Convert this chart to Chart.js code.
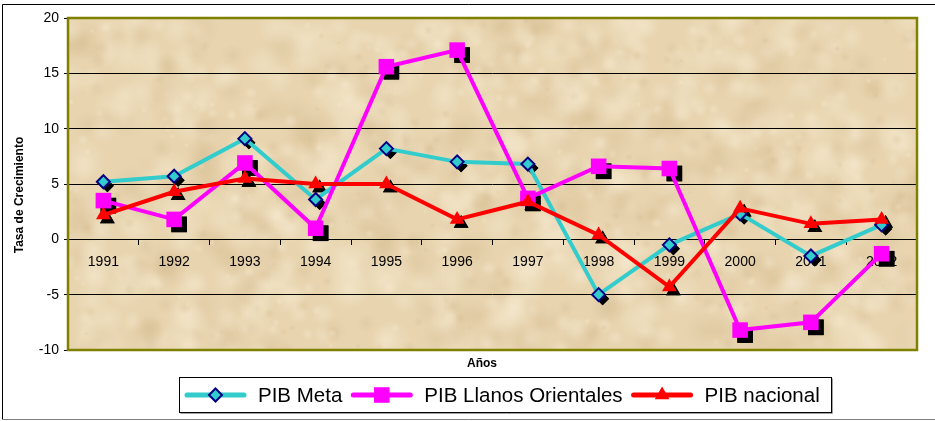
<!DOCTYPE html>
<html>
<head>
<meta charset="utf-8">
<script src="https://cdn.jsdelivr.net/npm/chart.js@4.4.0/dist/chart.umd.min.js"></script>
<style>
    html, body { margin: 0; padding: 0; background: #ffffff; }
    #wrap { width: 935px; height: 421px; position: relative; }
</style>
</head>
<body>
<div id="wrap"><canvas id="myChart" width="935" height="421"></canvas></div>
<script>
const years = ['1991', '1992', '1993', '1994', '1995', '1996', '1997', '1998', '1999', '2000', '2001', '2002'];
const pibMeta = [5.2, 5.7, 9.1, 3.6, 8.2, 7.0, 6.8, -5.0, -0.5, 2.3, -1.5, 1.3];
const pibLlanos = [3.5, 1.8, 6.9, 1.0, 15.6, 17.1, 3.7, 6.6, 6.4, -8.2, -7.5, -1.3];
const pibNacional = [2.2, 4.3, 5.5, 5.0, 5.0, 1.8, 3.4, 0.4, -4.3, 2.8, 1.4, 1.8];
const yTicks = [-10, -5, 0, 5, 10, 15, 20];
const seriesNames = ['PIB Meta', 'PIB Llanos Orientales', 'PIB nacional'];

const FONT = 'Arial, "Liberation Sans", sans-serif';

// parchment texture for the plot area (deterministic mottling)
function hash(n)
{
    const s = Math.sin(n * 12.9898) * 43758.5453;
    return s - Math.floor(s);
}

function makeParchment(w, h)
{
    const c = document.createElement('canvas');
    c.width = w;
    c.height = h;
    const g = c.getContext('2d');
    g.fillStyle = '#e8d5b0';
    g.fillRect(0, 0, w, h);
    for (let i = 0; i < 1100; i++)
    {
        const x = hash(i * 3 + 1) * w;
        const y = hash(i * 3 + 2) * h;
        const r = 2 + hash(i * 3 + 3) * 20;
        const light = hash(i * 7 + 5) > 0.45;
        const grad = g.createRadialGradient(x, y, 0, x, y, r);
        grad.addColorStop(0, light ? 'rgba(248,236,212,0.38)' : 'rgba(210,184,140,0.32)');
        grad.addColorStop(1, light ? 'rgba(248,236,212,0)' : 'rgba(210,184,140,0)');
        g.fillStyle = grad;
        g.fillRect(x - r, y - r, r * 2, r * 2);
    }
    return c;
}

let parchment = null;

const backgroundPlugin = {
    id: 'parchmentBg',
    beforeDraw(chart)
    {
        const { ctx, chartArea } = chart;
        const w = Math.round(chartArea.right - chartArea.left);
        const h = Math.round(chartArea.bottom - chartArea.top);
        if (!parchment || parchment.width !== w || parchment.height !== h)
        {
            parchment = makeParchment(w, h);
        }
        ctx.save();
        // outer chart frame
        ctx.strokeStyle = '#000000';
        ctx.lineWidth = 1;
        ctx.beginPath();
        ctx.moveTo(2.5, 419.5);
        ctx.lineTo(2.5, 4.5);
        ctx.lineTo(935, 4.5);
        ctx.stroke();
        ctx.strokeStyle = '#808080';
        ctx.beginPath();
        ctx.moveTo(2.5, 419.5);
        ctx.lineTo(935, 419.5);
        ctx.stroke();
        ctx.drawImage(parchment, chartArea.left, chartArea.top);
        ctx.restore();
    },
    beforeDatasetsDraw(chart)
    {
        const { ctx, chartArea } = chart;
        ctx.save();
        ctx.strokeStyle = '#808000';
        ctx.lineWidth = 2.5;
        ctx.strokeRect(chartArea.left, chartArea.top, chartArea.right - chartArea.left, chartArea.bottom - chartArea.top);

        // black marker shadows
        chart.data.datasets.forEach((ds, i) =>
        {
            const meta = chart.getDatasetMeta(i);
            const off = ds.shadowOffset;
            ctx.fillStyle = '#000000';
            ctx.strokeStyle = '#000000';
            meta.data.forEach(pt =>
            {
                Chart.helpers.drawPoint(ctx, {
                    pointStyle: ds.pointStyle,
                    radius: ds.pointRadius,
                    rotation: 0,
                    borderWidth: 0
                }, pt.x + off, pt.y + off);
                ctx.fill();
            });
        });
        ctx.restore();
    },
    afterDraw(chart)
    {
        const { ctx } = chart;
        ctx.save();

        // axis titles
        ctx.fillStyle = '#000000';
        ctx.font = 'bold 12px ' + FONT;
        ctx.textAlign = 'center';
        ctx.textBaseline = 'middle';
        ctx.fillText('Años', 482, 364);
        ctx.translate(20, 195);
        ctx.rotate(-Math.PI / 2);
        ctx.fillText('Tasa de Crecimiento', 0, 0);
        ctx.setTransform(1, 0, 0, 1, 0, 0);

        // legend with line + marker samples
        ctx.font = '20.5px ' + FONT;
        ctx.textAlign = 'left';
        ctx.textBaseline = 'middle';
        const boxLeft = 179.5, boxTop = 377.5, boxH = 35;
        const cy = boxTop + boxH / 2;
        let x = boxLeft + 7.5;
        let lastEnd = x;
        const items = [];
        chart.data.datasets.forEach((ds, i) =>
        {
            const tw = ctx.measureText(seriesNames[i]).width;
            items.push({ ds, x, tw, name: seriesNames[i] });
            lastEnd = x + 71 + tw;
            x = lastEnd + 11;
        });
        const boxW = Math.round(lastEnd + 12 - boxLeft);
        ctx.strokeStyle = '#000000';
        ctx.lineWidth = 1;
        ctx.strokeRect(boxLeft, boxTop, boxW, boxH);
        ctx.strokeStyle = '#a0a0a0';
        ctx.beginPath();
        ctx.moveTo(boxLeft + 1, boxTop + boxH + 1);
        ctx.lineTo(boxLeft + boxW + 1, boxTop + boxH + 1);
        ctx.lineTo(boxLeft + boxW + 1, boxTop + 1);
        ctx.stroke();

        items.forEach(it =>
        {
            const ds = it.ds;
            ctx.strokeStyle = ds.borderColor;
            ctx.lineWidth = 5;
            ctx.lineCap = 'round';
            ctx.beginPath();
            ctx.moveTo(it.x, cy);
            ctx.lineTo(it.x + 57, cy);
            ctx.stroke();
            ctx.lineCap = 'butt';
            ctx.fillStyle = ds.pointBackgroundColor;
            ctx.strokeStyle = ds.pointBorderColor;
            ctx.lineWidth = ds.pointBorderWidth;
            Chart.helpers.drawPoint(ctx, {
                pointStyle: ds.pointStyle,
                radius: ds.pointRadius,
                rotation: 0,
                borderWidth: ds.pointBorderWidth
            }, it.x + 28.5, cy);
            ctx.fillStyle = '#000000';
            ctx.fillText(it.name, it.x + 71, cy + 1);
        });
        ctx.restore();
    }
};

const chartContext = document.getElementById('myChart').getContext('2d');

new Chart(chartContext, {
    type: 'line',
    data: {
        labels: years,
        datasets: [
            {
                label: seriesNames[0],
                data: pibMeta,
                borderColor: '#33cccc',
                borderWidth: 4,
                pointStyle: 'rectRot',
                pointRadius: 6.5,
                pointBackgroundColor: '#33cccc',
                pointBorderColor: '#000080',
                pointBorderWidth: 2,
                shadowOffset: 4,
                order: 3
            },
            {
                label: seriesNames[1],
                data: pibLlanos,
                borderColor: '#ff00ff',
                borderWidth: 4,
                pointStyle: 'rect',
                pointRadius: 11,
                pointBackgroundColor: '#ff00ff',
                pointBorderColor: '#ff00ff',
                pointBorderWidth: 0,
                shadowOffset: 5,
                order: 2
            },
            {
                label: seriesNames[2],
                data: pibNacional,
                borderColor: '#ff0000',
                borderWidth: 4,
                pointStyle: 'triangle',
                pointRadius: 8.5,
                pointBackgroundColor: '#ff0000',
                pointBorderColor: '#ff0000',
                pointBorderWidth: 0,
                shadowOffset: 4,
                order: 1
            }
        ]
    },
    options: {
        responsive: false,
        animation: false,
        devicePixelRatio: 1,
        layout: {
            padding: { top: 18, right: 18, bottom: 71, left: 0 }
        },
        plugins: {
            legend: { display: false },
            tooltip: { enabled: false },
            title: { display: false }
        },
        scales: {
            x: {
                type: 'category',
                position: { y: 0 },
                offset: true,
                grid: {
                    display: true,
                    offset: true,
                    drawOnChartArea: false,
                    drawTicks: true,
                    tickLength: 5,
                    color: '#000000'
                },
                border: { display: true, color: '#000000', width: 1 },
                ticks: {
                    color: '#000000',
                    font: { family: FONT, size: 14 },
                    padding: 9,
                    maxRotation: 0,
                    autoSkip: false
                }
            },
            y: {
                type: 'linear',
                min: -10,
                max: 20,
                afterFit(scale) { scale.width = 68; },
                afterBuildTicks(scale) { scale.ticks = yTicks.map(v => ({ value: v })); },
                grid: {
                    color: '#000000',
                    lineWidth: 1,
                    tickLength: 4
                },
                border: { display: false },
                ticks: {
                    color: '#000000',
                    font: { family: FONT, size: 14 },
                    padding: 5
                }
            }
        }
    },
    plugins: [backgroundPlugin]
});
</script>
</body>
</html>
